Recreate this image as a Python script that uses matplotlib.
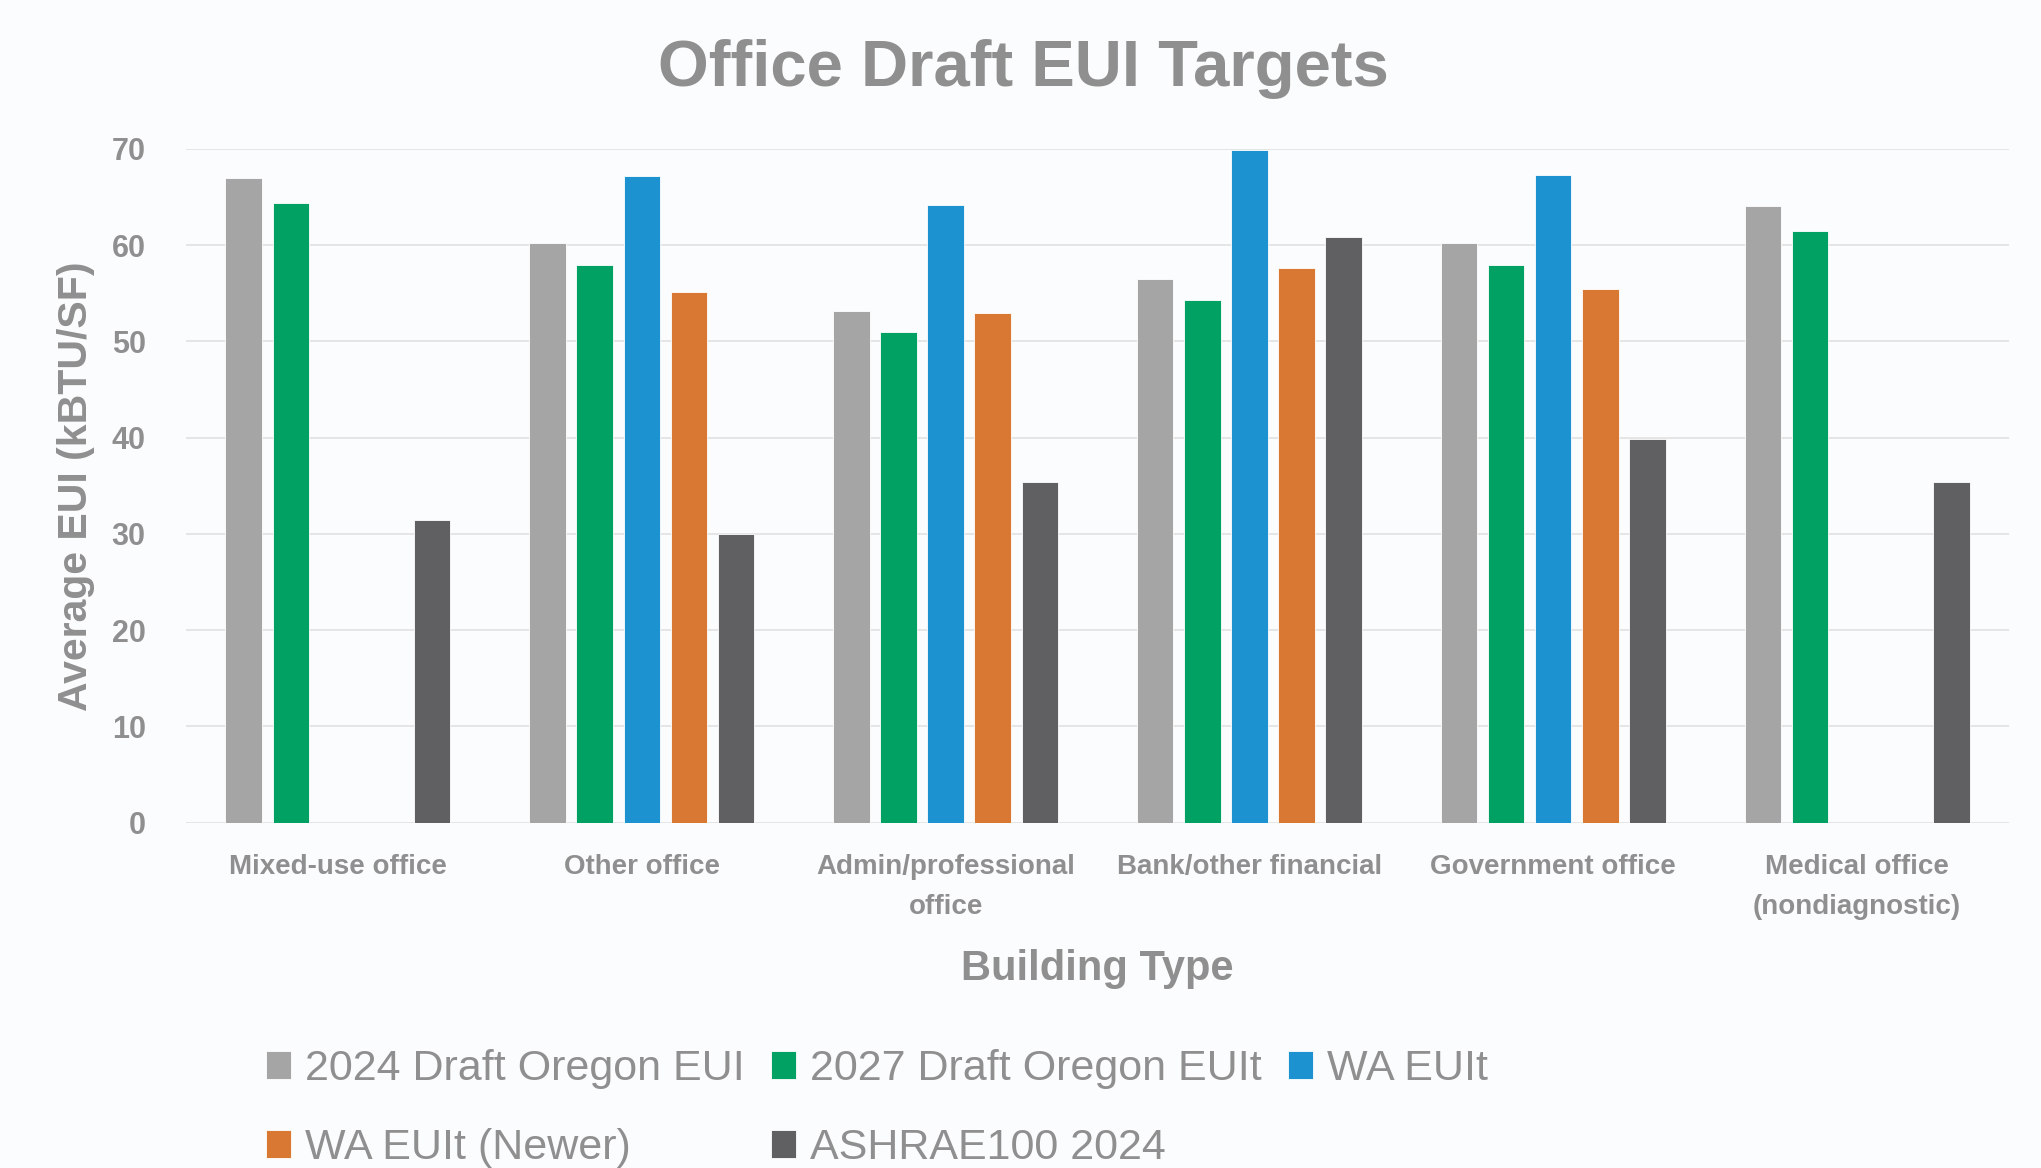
import numpy as np
import matplotlib
matplotlib.use("Agg")
import matplotlib.pyplot as plt

categories = ["Mixed-use office", "Other office", "Admin/professional\noffice",
              "Bank/other financial", "Government office", "Medical office\n(nondiagnostic)"]
series_names = ["2024 Draft Oregon EUI", "2027 Draft Oregon EUIt", "WA EUIt",
                "WA EUIt (Newer)", "ASHRAE100 2024"]

oregon_2024 = [67.0, 60.2, 53.2, 56.5, 60.2, 64.1]
oregon_2027 = [64.4, 57.9, 51.0, 54.3, 57.9, 61.5]
wa_euit = [np.nan, 67.2, 64.2, 69.9, 67.3, np.nan]
wa_euit_newer = [np.nan, 55.1, 53.0, 57.6, 55.4, np.nan]
ashrae_2024 = [31.4, 30.0, 35.4, 60.9, 39.9, 35.4]

colors = ["#a5a5a5", "#00a163", "#1c92d0", "#d97833", "#606062"]
text_color = "#8f8f8f"
bg = "#fbfcfd"

plt.rcParams["font.family"] = ["Liberation Sans", "DejaVu Sans"]

fig = plt.figure(figsize=(20.41, 11.68), dpi=100, facecolor=bg)
ax = fig.add_axes([186 / 2041, 1 - 822.5 / 1168, 1823 / 2041, 673.5 / 1168])
ax.set_facecolor(bg)

x = np.arange(len(categories))
slot = 0.155
width = 0.12
all_series = [oregon_2024, oregon_2027, wa_euit, wa_euit_newer, ashrae_2024]
handles = []
for i, (vals, name, c) in enumerate(zip(all_series, series_names, colors)):
    b = ax.bar(x + (i - 2) * slot, vals, width, color=c, label=name,
               edgecolor="white", linewidth=0.6, zorder=3)
    handles.append(b)

ax.set_xlim(-0.5, len(categories) - 0.5)
ax.set_ylim(0, 70)
ax.set_yticks(range(0, 71, 10))
ax.grid(axis="y", color="#e3e3e3", linewidth=1.3, zorder=0)
ax.set_axisbelow(True)
for s in ax.spines.values():
    s.set_visible(False)

ax.set_xticks(x)
ax.set_xticklabels(categories, fontsize=20, fontweight="bold", color=text_color,
                   linespacing=1.66)
ax.tick_params(axis="x", length=0, pad=23)
ax.tick_params(axis="y", length=0, pad=29, labelsize=22, labelcolor=text_color)
for lbl in ax.get_yticklabels():
    lbl.set_fontweight("bold")

fig.text(1023 / 2041, 1 - 86 / 1168, "Office Draft EUI Targets", ha="center",
         va="baseline", fontsize=47, fontweight="bold", color=text_color)
fig.text(1097 / 2041, 1 - 980 / 1168, "Building Type", ha="center",
         va="baseline", fontsize=30, fontweight="bold", color=text_color)
fig.text(76 / 2041, 1 - 486 / 1168, "Average EUI (kBTU/SF)", ha="center",
         va="center", rotation=90, fontsize=29.5, fontweight="bold", color=text_color)

# column-major legend order so rows read left to right
order = [0, 3, 1, 4, 2]
leg = fig.legend([handles[i] for i in order], [series_names[i] for i in order],
                 ncol=3, loc="upper left", bbox_to_anchor=(266 / 2041, 0.102),
                 frameon=False, fontsize=31, borderpad=0, borderaxespad=0,
                 handlelength=0.58, handleheight=0.62, handletextpad=0.33,
                 columnspacing=0.6, labelspacing=0.92)
for t in leg.get_texts():
    t.set_color(text_color)

fig.savefig("out.png", dpi=100, facecolor=bg)
